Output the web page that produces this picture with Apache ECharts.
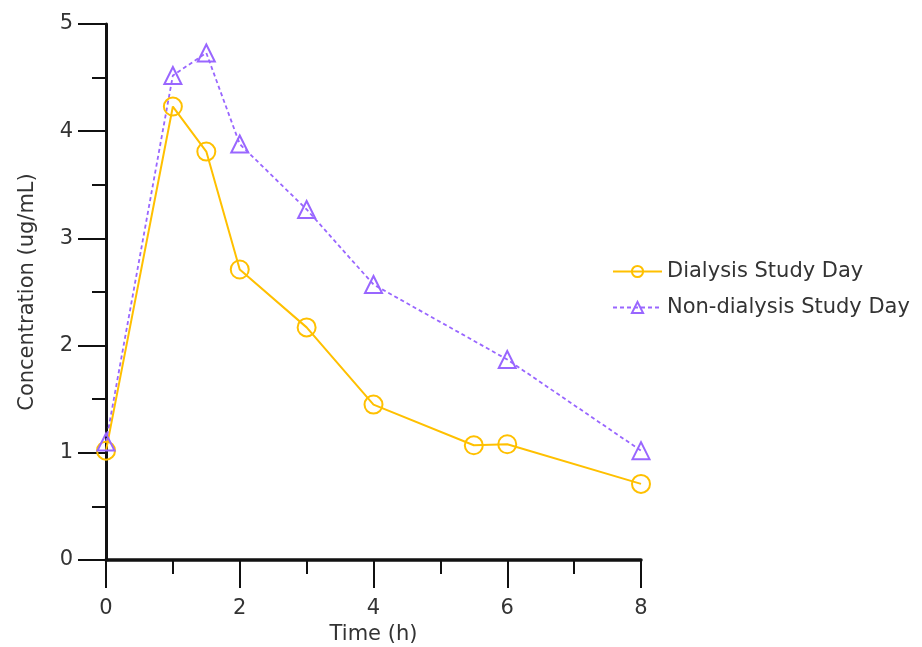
<!DOCTYPE html>
<html>
<head>
<meta charset="utf-8">
<script src="https://cdn.jsdelivr.net/npm/echarts@6/dist/echarts.min.js"></script>
<style>html,body{margin:0;padding:0;background:#fff;}#c{width:922px;height:647px;}</style>
</head>
<body>
<div id="c"></div>
<script>
var timesDialysis = [0, 1, 1.5, 2, 3, 4, 5.5, 6, 8];
var concDialysis = [1.02, 4.23, 3.81, 2.71, 2.17, 1.45, 1.07, 1.08, 0.71];
var timesNonDialysis = [0, 1, 1.5, 2, 3, 4, 6, 8];
var concNonDialysis = [1.10, 4.52, 4.73, 3.88, 3.27, 2.57, 1.87, 1.02];
var seriesNames = ['Dialysis Study Day', 'Non-dialysis Study Day'];
var xAxisName = 'Time (h)';
var yAxisName = 'Concentration (ug/mL)';

function pairs(xs, ys) { return xs.map(function (x, i) { return [x, ys[i]]; }); }

var FONT = 'DejaVu Sans';
var TXT = '#333333';
var chart = echarts.init(document.getElementById('c'));
chart.setOption({
  animation: false,
  backgroundColor: '#fff',
  grid: { left: 106, right: 281, top: 24, bottom: 87, containLabel: false, outerBoundsMode: 'none' },
  legend: {
    orient: 'vertical', left: 607, top: 256, itemWidth: 49, itemHeight: 14, itemGap: 15,
    textStyle: { fontFamily: FONT, fontSize: 21, color: TXT },
    data: seriesNames
  },
  xAxis: {
    type: 'value', min: 0, max: 8, interval: 2,
    name: xAxisName, nameLocation: 'middle', nameGap: 64,
    nameTextStyle: { fontFamily: FONT, fontSize: 21, color: TXT },
    axisLine: { show: true, lineStyle: { color: '#111', width: 3.5 } },
    axisTick: { show: true, length: 28, lineStyle: { color: '#111', width: 2 } },
    minorTick: { show: true, splitNumber: 2, length: 14, lineStyle: { color: '#111', width: 2 } },
    splitLine: { show: false },
    axisLabel: { margin: 38, fontFamily: FONT, fontSize: 21, color: TXT }
  },
  yAxis: {
    type: 'value', min: 0, max: 5, interval: 1,
    name: yAxisName, nameLocation: 'middle', nameGap: 68,
    nameTextStyle: { fontFamily: FONT, fontSize: 21, color: TXT },
    axisLine: { show: true, lineStyle: { color: '#111', width: 3 } },
    axisTick: { show: true, length: 28, lineStyle: { color: '#111', width: 2 } },
    minorTick: { show: true, splitNumber: 2, length: 14, lineStyle: { color: '#111', width: 2 } },
    splitLine: { show: false },
    axisLabel: { margin: 33, fontFamily: FONT, fontSize: 21, color: TXT }
  },
  series: [
    {
      name: seriesNames[0], type: 'line', data: pairs(timesDialysis, concDialysis),
      symbol: 'circle', symbolSize: 18,
      itemStyle: { color: 'rgba(255,255,255,0)', borderColor: '#FFC000', borderWidth: 2 },
      lineStyle: { color: '#FFC000', width: 2, type: 'solid' }
    },
    {
      name: seriesNames[1], type: 'line', data: pairs(timesNonDialysis, concNonDialysis),
      symbol: 'triangle', symbolSize: 17,
      itemStyle: { color: 'rgba(255,255,255,0)', borderColor: '#9966FF', borderWidth: 2 },
      lineStyle: { color: '#9966FF', width: 1.8, type: [4, 3] }
    }
  ]
});
</script>
</body>
</html>
